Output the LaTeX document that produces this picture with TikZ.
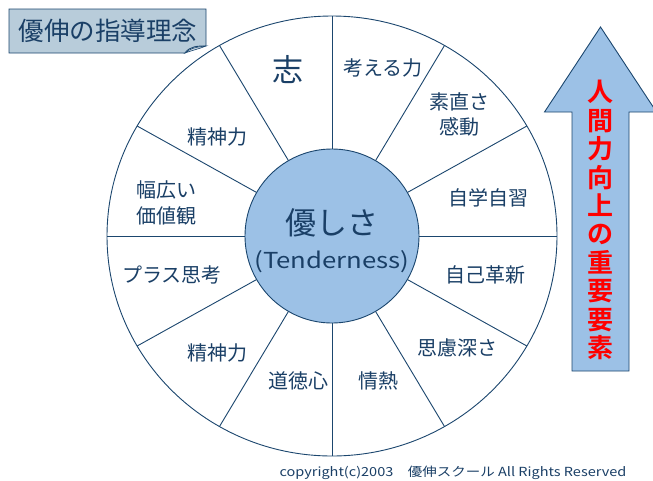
\documentclass[tikz,border=0pt]{standalone}
\usepackage{fontspec}
\usetikzlibrary{calc}
\setmainfont{Noto Sans CJK JP}[BoldFont={* Bold}]
\definecolor{navy}{HTML}{1B466E}
\definecolor{txt}{HTML}{1A3F66}
\definecolor{cfill}{HTML}{9CC1E6}
\definecolor{tfill}{HTML}{B8CCDA}
\tikzset{
  lbl/.style={text=txt,font=\fontsize{20}{25}\selectfont,align=center,inner sep=0pt},
  spoke/.style={draw=navy,line width=0.9pt},
}
\begin{document}
\begin{tikzpicture}[x=1pt,y=-1pt]
\useasboundingbox (0,0) rectangle (653,480);
\coordinate (c) at (332,236);
% outer circle
\draw[navy,line width=0.9pt,fill=white] (c) ellipse [x radius=225,y radius=220];
% spokes
\foreach \a in {0,30,...,330}{
  \draw[spoke] ($(c)+(\a:87)$) -- ($(c)+(\a:225 and 220)$);
}
% inner circle
\node[circle,draw=navy,line width=0.9pt,fill=cfill,minimum size=174pt,inner sep=0pt] (core) at (c) {};
\node[lbl,font=\fontsize{31}{36}\selectfont] (yasa) at (332,223) {優しさ};
\node[lbl,font=\fontsize{22}{26}\selectfont] (tend) at (332,262) {\scalebox{1.17}[1]{(Tenderness)}};
% sector labels
\node[lbl,font=\fontsize{31}{36}\selectfont] (s1) at (288,70) {志};
\node[lbl] (s2) at (383,68) {考える力};
\node[lbl,font=\fontsize{20}{25}\selectfont] (s3) at (459,114) {素直さ\\感動};
\node[lbl] (s4) at (488,198) {自学自習};
\node[lbl] (s5) at (217,137) {精神力};
\node[lbl,font=\fontsize{20}{26}\selectfont] (s6) at (166,203) {幅広い\\価値観};
\node[lbl] (s7) at (172,275) {プラス思考};
\node[lbl] (s8) at (217,353) {精神力};
\node[lbl] (s9) at (298,381) {道徳心};
\node[lbl] (s10) at (378,381) {情熱};
\node[lbl] (s11) at (457,348) {思慮深さ};
\node[lbl] (s12) at (485,275) {自己革新};
% title box with folded corner
\draw[navy,line width=0.9pt,fill=tfill] (9,9) -- (206,9) -- (206,46)
  .. controls (198,46) and (190,46) .. (185,53) -- (9,53) -- cycle;
\draw[navy,line width=0.6pt,fill=tfill!70!white] (185,53) .. controls (189,49) and (195,47) .. (206,46)
  .. controls (199,49) and (193,50) .. (185,53) -- cycle;
\node[lbl,font=\fontsize{25.5}{30}\selectfont] (title) at (108,31) {優伸の指導理念};
% arrow
\draw[navy,line width=0.9pt,fill=cfill] (572,371) -- (572,112) -- (544.5,112) -- (600.5,27)
  -- (656.5,112) -- (629,112) -- (629,371) -- cycle;
\node[text=red,font=\fontsize{26}{28.4}\selectfont\bfseries,align=center,inner sep=0pt] (vert) at (600.5,220)
  {人\\間\\力\\向\\上\\の\\重\\要\\要\\素};
% copyright
\node[text=txt,font=\fontsize{12.5}{15}\selectfont,inner sep=0pt] (copy) at (453,473)
  {\scalebox{1.16}[1]{copyright(c)2003　優伸スクール All Rights Reserved}};
\end{tikzpicture}
\end{document}
